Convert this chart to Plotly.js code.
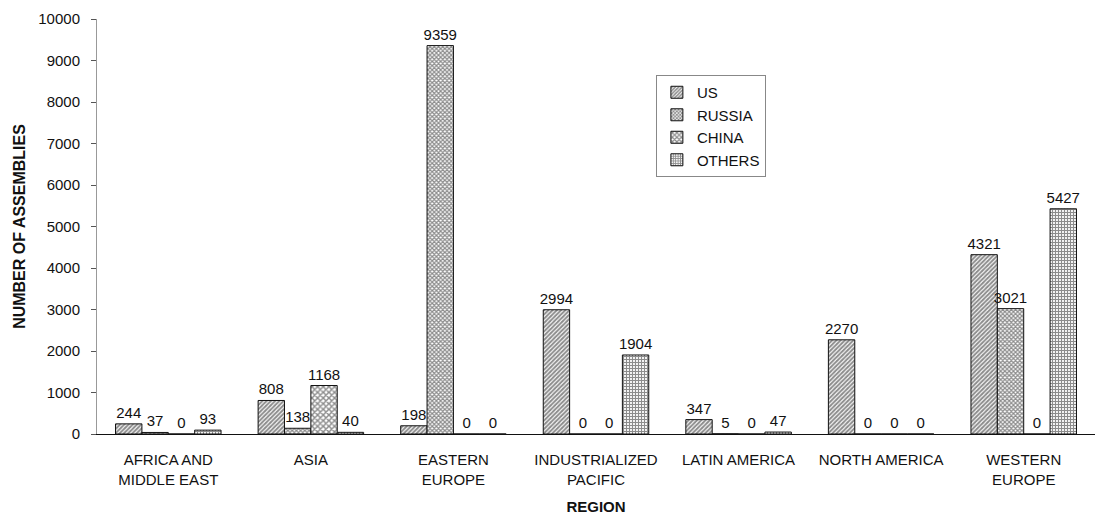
<!DOCTYPE html>
<html>
<head>
<meta charset="utf-8">
<script src="https://cdn.plot.ly/plotly-3.0.1.min.js"></script>
<style>html,body{margin:0;padding:0;background:#fff;}#chart{width:1097px;height:517px;}</style>
</head>
<body>
<div id="chart"></div>
<script>
const regions = ["AFRICA AND<br>MIDDLE EAST", "ASIA", "EASTERN<br>EUROPE", "INDUSTRIALIZED<br>PACIFIC", "LATIN AMERICA", "NORTH AMERICA", "WESTERN<br>EUROPE"];
const us      = [244, 808, 198, 2994, 347, 2270, 4321];
const russia  = [37, 138, 9359, 0, 5, 0, 3021];
const china   = [0, 1168, 0, 0, 0, 0, 0];
const others  = [93, 40, 0, 1904, 47, 0, 5427];
const yTicks  = [0, 1000, 2000, 3000, 4000, 5000, 6000, 7000, 8000, 9000, 10000];

const font = "Liberation Sans, Arial, sans-serif";
function trace(name, vals, shape, size, sol) {
  return {
    type: "bar", name: name, x: regions, y: vals,
    text: vals.map(String), textposition: "outside", cliponaxis: false, constraintext: "none",
    textfont: {family: font, size: 15, color: "#111"},
    marker: {color: "#fff", line: {color: "#111", width: 1},
      pattern: {shape: shape, fgcolor: "#1a1a1a", bgcolor: "#fff", size: size, solidity: sol, fillmode: "overlay"}}
  };
}
const data = [
  trace("US", us, "/", 3, 0.65),
  trace("RUSSIA", russia, "x", 3, 0.65),
  trace("CHINA", china, "x", 4, 0.6),
  trace("OTHERS", others, "+", 3, 0.65)
];
const layout = {
  width: 1097, height: 517,
  margin: {l: 97, r: 2, t: 19, b: 83},
  paper_bgcolor: "#fff", plot_bgcolor: "#fff",
  barmode: "group", bargap: 0.26, bargroupgap: 0,
  font: {family: font, size: 15, color: "#111"},
  showlegend: true,
  legend: {x: 0.56, y: 0.865, xanchor: "left", yanchor: "top", bgcolor: "#fff",
    bordercolor: "#888", borderwidth: 1, font: {family: font, size: 15, color: "#111"},
    tracegroupgap: 0, itemwidth: 30},
  xaxis: {type: "category", showline: true, linecolor: "#111", linewidth: 1,
    ticks: "", showgrid: false, zeroline: false, ticklabelstandoff: 12,
    tickfont: {family: font, size: 15, color: "#111"},
    title: {text: "<b>REGION</b>", font: {family: font, size: 15, color: "#111"}, standoff: 14}},
  yaxis: {range: [0, 10000], tickvals: yTicks, ticktext: yTicks.map(String),
    showline: true, linecolor: "#999", linewidth: 1, ticks: "outside", ticklen: 5, tickcolor: "#555",
    showgrid: false, zeroline: false, ticklabelstandoff: 8,
    tickfont: {family: font, size: 15, color: "#111"},
    title: {text: "<b>NUMBER OF ASSEMBLIES</b>", font: {family: font, size: 16, color: "#111"}, standoff: 8}}
};
Plotly.newPlot("chart", data, layout, {staticPlot: true});
</script>
</body>
</html>
